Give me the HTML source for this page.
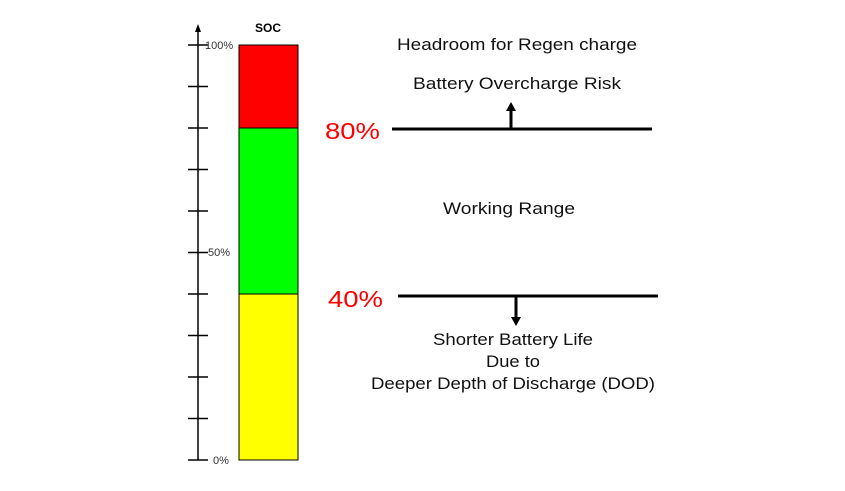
<!DOCTYPE html>
<html><head><style>
body{margin:0;background:#fff;}
</style></head><body>
<svg width="845" height="486" xmlns="http://www.w3.org/2000/svg" font-family="Liberation Sans, sans-serif">
<rect x="239" y="45" width="59" height="83" fill="#f00" stroke="#000" stroke-width="1"/>
<rect x="239" y="128" width="59" height="166" fill="#0f0" stroke="#000" stroke-width="1"/>
<rect x="239" y="294" width="59" height="166" fill="#ff0" stroke="#000" stroke-width="1"/>
<line x1="198" y1="30" x2="198" y2="460" stroke="#000" stroke-width="1.5"/>
<polygon points="198,24 195,32 201,32" fill="#000"/>
<g stroke="#000" stroke-width="1.5">
<line x1="188" y1="45" x2="208" y2="45"/><line x1="188" y1="86.5" x2="208" y2="86.5"/>
<line x1="188" y1="128" x2="208" y2="128"/><line x1="188" y1="169.5" x2="208" y2="169.5"/>
<line x1="188" y1="211" x2="208" y2="211"/><line x1="188" y1="252.5" x2="208" y2="252.5"/>
<line x1="188" y1="294" x2="208" y2="294"/><line x1="188" y1="335.5" x2="208" y2="335.5"/>
<line x1="188" y1="377" x2="208" y2="377"/><line x1="188" y1="418.5" x2="208" y2="418.5"/>
<line x1="188" y1="460" x2="208" y2="460"/>
</g>
<g font-size="11" fill="#333">
<text x="205" y="49">100%</text>
<text x="208" y="256">50%</text>
<text x="213" y="464">0%</text>
</g>
<text x="268" y="32" font-size="12" font-weight="bold" text-anchor="middle">SOC</text>
<g font-size="17" fill="#111" lengthAdjust="spacingAndGlyphs">
<text x="397" y="50" textLength="240" lengthAdjust="spacingAndGlyphs">Headroom for Regen charge</text>
<text x="413" y="89" textLength="208" lengthAdjust="spacingAndGlyphs">Battery Overcharge Risk</text>
<text x="443" y="214" textLength="132" lengthAdjust="spacingAndGlyphs">Working Range</text>
<text x="433" y="345" textLength="160" lengthAdjust="spacingAndGlyphs">Shorter Battery Life</text>
<text x="486" y="367" textLength="54" lengthAdjust="spacingAndGlyphs">Due to</text>
<text x="371" y="389" textLength="284" lengthAdjust="spacingAndGlyphs">Deeper Depth of Discharge (DOD)</text>
</g>
<g font-size="23" fill="#f00">
<text x="325" y="139" textLength="55" lengthAdjust="spacingAndGlyphs">80%</text>
<text x="328" y="307" textLength="55" lengthAdjust="spacingAndGlyphs">40%</text>
</g>
<g stroke="#000" stroke-width="3">
<line x1="392" y1="129" x2="652" y2="129"/>
<line x1="511" y1="129" x2="511" y2="110"/>
<line x1="398" y1="296" x2="658" y2="296"/>
<line x1="516" y1="296" x2="516" y2="318"/>
</g>
<polygon points="511,102 506,111 516,111" fill="#000"/>
<polygon points="516,326 511,317 521,317" fill="#000"/>
</svg>
</body></html>
